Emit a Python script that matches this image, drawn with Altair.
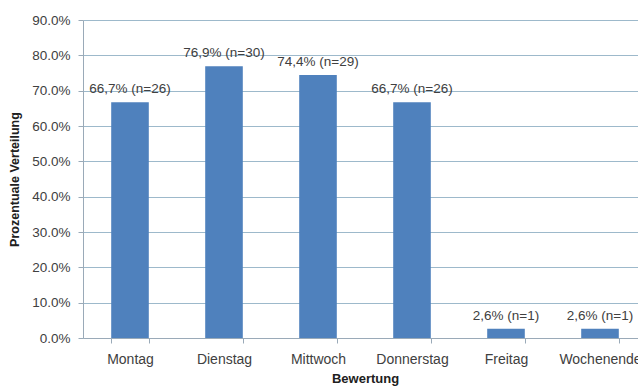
import altair as alt
import pandas as pd

days = ["Montag", "Dienstag", "Mittwoch", "Donnerstag", "Freitag", "Wochenende"]
shares = [0.667, 0.769, 0.744, 0.667, 0.026, 0.026]
labels = ["66,7% (n=26)", "76,9% (n=30)", "74,4% (n=29)", "66,7% (n=26)", "2,6% (n=1)", "2,6% (n=1)"]
y_ticks = [0.0, 0.1, 0.2, 0.3, 0.4, 0.5, 0.6, 0.7, 0.8, 0.9]

df = pd.DataFrame({"day": days, "share": shares, "label": labels})

FONT = "Liberation Sans"
TXT = "#404040"
GRID = "#9DB9CB"
AXIS = "#9AAAB8"

x = alt.X("day:N", sort=days, title="Bewertung",
          scale=alt.Scale(paddingInner=0.6, paddingOuter=0.3, range=[0, 564]),
          axis=alt.Axis(labelAngle=0, labelFontSize=14, labelFont=FONT, labelColor=TXT,
                        labelPadding=9, tickBand="extent", tickSize=5, tickColor=AXIS,
                        domainColor=AXIS, titleFont=FONT, titleFontSize=13,
                        titleFontWeight="bold", titleColor="#202020", titlePadding=6,
                        labelOverlap=False, labelBound=False))
y = alt.Y("share:Q", title="Prozentuale Verteilung",
          scale=alt.Scale(domain=[0, 0.9], nice=False),
          axis=alt.Axis(values=y_ticks, format=".1%", labelFontSize=13.5, labelFont=FONT,
                        labelColor=TXT, labelPadding=8, tickSize=5, tickColor=AXIS,
                        domainColor=AXIS, gridColor=GRID, titleFont=FONT, titleFontSize=12.5,
                        titleFontWeight="bold", titleColor="#202020", titlePadding=10,
                        labelOverlap=False))

bars = alt.Chart(df).mark_bar(color="#4F81BD", clip=False).encode(x=x, y=y)
text = alt.Chart(df).mark_text(dy=-9, baseline="alphabetic", font=FONT, fontSize=13.5,
                               color=TXT).encode(x=x, y=y, text="label:N")

chart = (bars + text).properties(
    width=555, height=318,
    autosize=alt.AutoSizeParams(type="none"),
    padding={"left": 83, "top": 20, "right": 0, "bottom": 50},
    background="white",
).configure_view(stroke=None)

chart.save("out.html", embed_options={"renderer": "svg", "actions": False})
